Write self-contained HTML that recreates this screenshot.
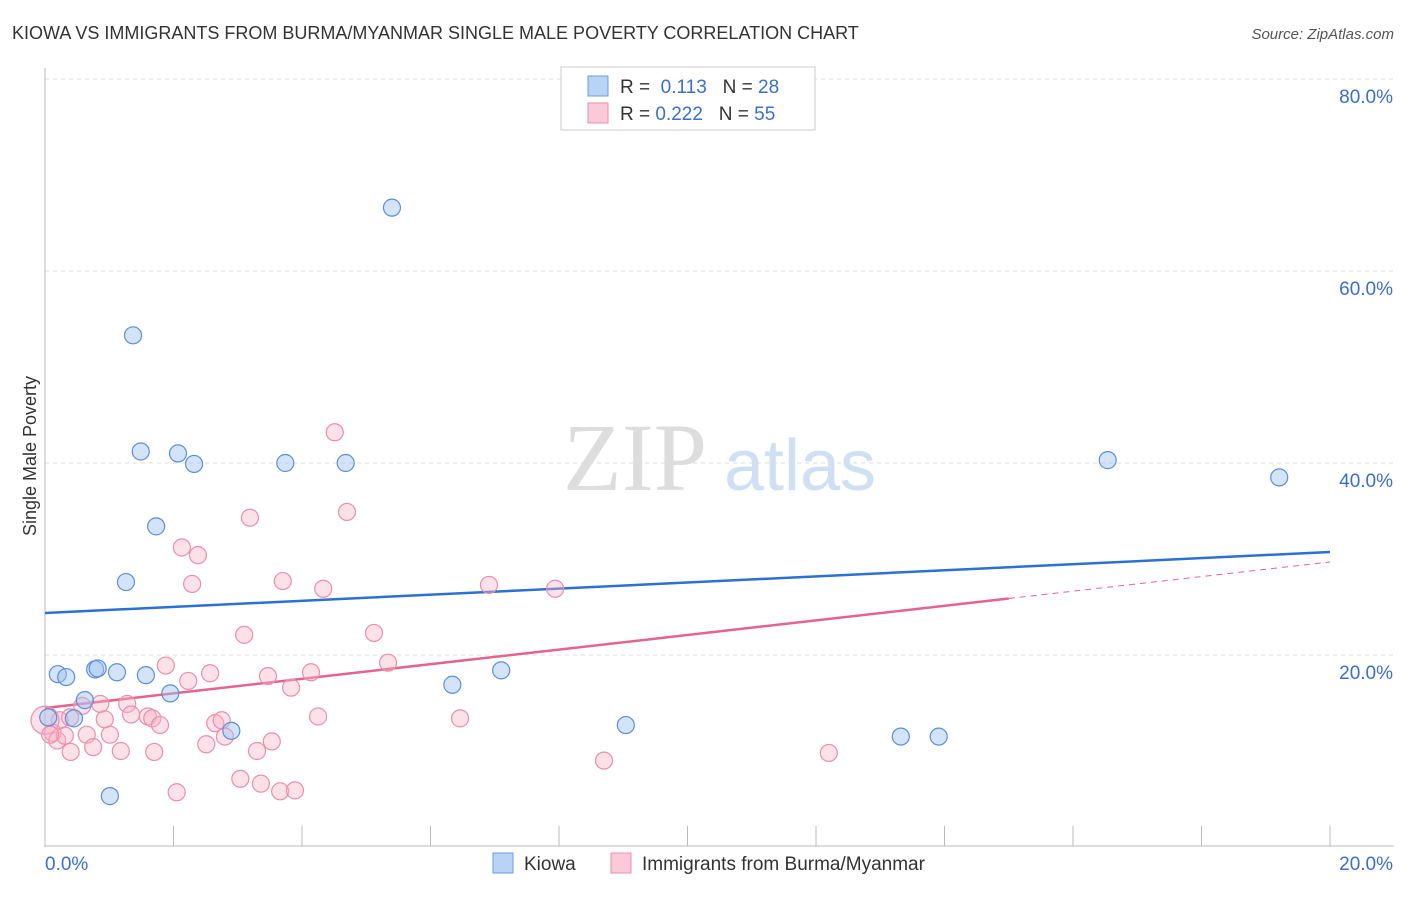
<!DOCTYPE html>
<html><head><meta charset="utf-8"><style>
body{margin:0;background:#fff;font-family:"Liberation Sans",sans-serif}
</style></head><body>
<svg id="c" width="1406" height="892" xmlns="http://www.w3.org/2000/svg">
<text x="12" y="39" font-size="18" fill="#333">KIOWA VS IMMIGRANTS FROM BURMA/MYANMAR SINGLE MALE POVERTY CORRELATION CHART</text>
<text x="1394" y="39" font-size="15" fill="#555" font-style="italic" text-anchor="end">Source: ZipAtlas.com</text>
<text x="36" y="456" font-size="18" fill="#333" text-anchor="middle" transform="rotate(-90 36 456)">Single Male Poverty</text>
<g><text x="635" y="490" font-size="96" font-family="Liberation Serif" fill="#ddd" text-anchor="middle">ZIP</text><text x="800" y="490" font-size="72" fill="#cfe0f5" text-anchor="middle">atlas</text></g>
<g id="grid"></g><g id="lines"></g><g id="pts"></g>
<g>
<rect x="561" y="67" width="254" height="63" fill="#fff" stroke="#ccc"/>
<rect x="588" y="76" width="20" height="20" fill="#b9d3f5" stroke="#6b9be0"/>
<rect x="588" y="103" width="20" height="20" fill="#fbc9d8" stroke="#e98fae"/>
<text x="620" y="93" font-size="19" fill="#333">R = <tspan fill="#3a6fd0">&#160;0.113</tspan>&#160;&#160;&#160;N = <tspan fill="#3a6fd0">28</tspan></text>
<text x="620" y="120" font-size="19" fill="#333">R = <tspan fill="#3a6fd0">0.222</tspan>&#160;&#160;&#160;N = <tspan fill="#3a6fd0">55</tspan></text>
</g>
<g>
<rect x="493" y="853" width="20" height="20" fill="#b9d3f5" stroke="#6b9be0"/><text x="524" y="870" font-size="19" fill="#333">Kiowa</text>
<rect x="611" y="853" width="20" height="20" fill="#fbc9d8" stroke="#e98fae"/><text x="642" y="870" font-size="19" fill="#333">Immigrants from Burma/Myanmar</text>
</g>
</svg>
<script>
const yTicks=[20,40,60,80];
const xLabels=["0.0%","20.0%"];
const kiowaX=[5.40,1.37,1.49,2.07,2.32,3.74,4.68,1.73,1.26,0.20,0.33,0.78,0.82,1.12,1.57,0.62,1.95,0.45,0.05,2.90,1.01,6.34,7.10,9.04,13.32,13.91,16.54,19.21];
const kiowaY=[66.6,53.3,41.2,41.0,39.9,40.0,40.0,33.4,27.6,18.0,17.7,18.5,18.6,18.2,17.9,15.3,16.0,13.4,13.5,12.1,5.3,16.9,18.4,12.7,11.5,11.5,40.3,38.5];
const burmaX=[3.19,2.13,2.38,2.29,3.70,4.33,4.51,4.70,3.10,5.12,6.91,7.94,1.88,2.23,2.57,3.47,3.83,4.14,5.34,0.58,0.86,1.28,0.23,0.39,0.93,1.34,1.60,1.67,1.79,2.65,2.75,2.80,0.65,1.01,0.12,0.19,0.31,0.75,0.40,1.18,1.70,2.51,3.30,3.53,4.25,6.46,3.04,3.36,3.66,3.89,2.05,8.70,12.20,0.0,0.08];
const burmaY=[34.3,31.2,30.4,27.4,27.7,26.9,43.2,34.9,22.1,22.3,27.3,26.9,18.9,17.3,18.1,17.8,16.6,18.2,19.2,14.7,14.9,14.9,13.2,13.5,13.3,13.8,13.6,13.4,12.7,12.9,13.2,11.5,11.7,11.7,11.9,11.1,11.6,10.4,9.9,10.0,9.9,10.7,10.0,11.0,13.6,13.4,7.1,6.6,5.8,5.9,5.7,9.0,9.8,13.2,11.7];
const X=v=>45+v/20*1285, Y=v=>847-v*9.6;
const NS="http://www.w3.org/2000/svg";
function mk(t,a,p){const e=document.createElementNS(NS,t);for(const k in a)e.setAttribute(k,a[k]);p.appendChild(e);return e;}
const g=document.getElementById('grid');
yTicks.forEach(t=>{
 const l=mk('line',{x1:45,x2:1394,y1:Y(t),y2:Y(t),stroke:'#ddd','stroke-dasharray':'4,4'},g);
 
 
 const tx=mk('text',{x:1393,y:Y(t)+24,'font-size':19,fill:'#3a6fd0','text-anchor':'end'},g);
 tx.textContent=t.toFixed(1)+'%';
 
 
});
const ax=mk('line',{x1:45,x2:45,y1:68,y2:847,stroke:'#bbb'},g);


const bx=mk('line',{x1:45,x2:1394,y1:846,y2:846,stroke:'#bbb'},g);


for(let i=0;i<=10;i++){const tk=mk('line',{x1:X(i*2),x2:X(i*2),y1:826,y2:846,stroke:'#bbb'},g);
 
 }
xLabels.forEach((s,i)=>{const tx=mk('text',{x:i?1393:45,y:870,'font-size':19,fill:'#3a6fd0','text-anchor':i?'end':'start'},g);tx.textContent=s;
 
 });
const L=document.getElementById('lines');
const b0=24.375,b1=30.73,p0=14.48,p1=29.69;
let e=mk('line',{x1:X(0),y1:Y(b0),x2:X(20),y2:Y(b1),stroke:'#2c6fd6','stroke-width':2.5},L);


const pm=p0+(p1-p0)*15/20;
e=mk('line',{x1:X(0),y1:Y(p0),x2:X(15),y2:Y(pm),stroke:'#e5648e','stroke-width':2.5},L);


e=mk('line',{x1:X(15),y1:Y(pm),x2:X(20),y2:Y(p1),stroke:'#e5648e','stroke-width':1,'stroke-dasharray':'6,5'},L);


const P=document.getElementById('pts');
burmaX.forEach((v,i)=>{const c=mk('circle',{cx:X(v),cy:Y(burmaY[i]),r:i==53?14:8.5,fill:'rgba(248,180,200,0.4)',stroke:'#ea8fae','stroke-width':1.2},P);
 
 });
kiowaX.forEach((v,i)=>{const c=mk('circle',{cx:X(v),cy:Y(kiowaY[i]),r:8.5,fill:'rgba(160,195,240,0.45)',stroke:'#5b8fdc','stroke-width':1.2},P);
 
 });
</script>
</body></html>
